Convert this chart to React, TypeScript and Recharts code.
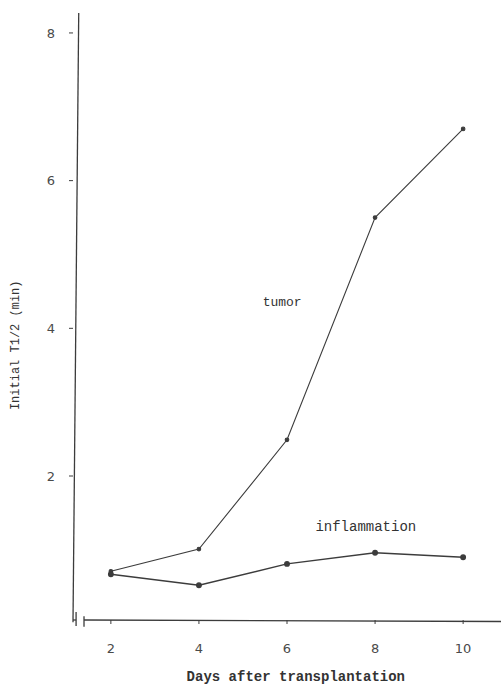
import React from 'react';
import { LineChart, Line, XAxis, YAxis, ReferenceLine, ReferenceDot } from 'recharts';

const days = [2, 4, 6, 8, 10];
const tumor = [0.71, 1.01, 2.49, 5.5, 6.7];
const inflammation = [0.67, 0.52, 0.81, 0.96, 0.9];
const xTicks = [2, 4, 6, 8, 10];
const yTicks = [2, 4, 6, 8];

const data = days.map((d, i) => ({ day: d, tumor: tumor[i], inflammation: inflammation[i] }));

const ink = '#3c3c3c';
const mono = '"Liberation Mono", "DejaVu Sans Mono", monospace';
const tickFont = { fontFamily: '"DejaVu Sans", sans-serif', fontSize: 13, fill: '#4a4a4a' };

const X_MIN = 1.14;
const X_MAX = 10.86;
const Y_MIN = 0.05;
const Y_MAX = 8.27;

const App: React.FC = () => {
  return (
    <div style={{ position: 'absolute', left: 0, top: 0, background: '#fff' }}>
      <LineChart width={501} height={688} data={data} margin={{ top: 13, right: 0, left: 0, bottom: 0 }}>
        <XAxis
          dataKey="day"
          type="number"
          domain={[X_MIN, X_MAX]}
          ticks={xTicks}
          axisLine={false}
          tickSize={4}
          tickMargin={20}
          tickLine={{ stroke: ink }}
          tick={tickFont}
          height={68}
        />
        <YAxis
          type="number"
          domain={[Y_MIN, Y_MAX]}
          ticks={yTicks}
          axisLine={false}
          tickSize={4}
          tickMargin={14}
          tickLine={{ stroke: ink }}
          tick={tickFont}
          width={73}
        />
        {/* slightly slanted y axis line, as drawn by hand */}
        <ReferenceLine
          segment={[{ x: 1.27, y: Y_MAX }, { x: X_MIN, y: Y_MIN - 0.03 }]}
          stroke={ink}
          strokeWidth={1.3}
          ifOverflow="visible"
        />
        {/* x axis with break */}
        <ReferenceLine segment={[{ x: X_MIN, y: Y_MIN }, { x: 1.21, y: Y_MIN }]} stroke={ink} strokeWidth={1.3} ifOverflow="visible" />
        <ReferenceLine segment={[{ x: 1.21, y: Y_MIN + 0.11 }, { x: 1.21, y: Y_MIN - 0.08 }]} stroke={ink} strokeWidth={1.3} ifOverflow="visible" />
        <ReferenceLine segment={[{ x: 1.39, y: Y_MIN + 0.05 }, { x: 1.39, y: Y_MIN - 0.09 }]} stroke={ink} strokeWidth={1.3} ifOverflow="visible" />
        <ReferenceLine segment={[{ x: 1.39, y: Y_MIN }, { x: X_MAX, y: Y_MIN - 0.02 }]} stroke={ink} strokeWidth={1.3} ifOverflow="visible" />
        <Line
          dataKey="tumor"
          stroke={ink}
          strokeWidth={1.1}
          dot={{ r: 1.8, fill: ink, stroke: ink }}
          isAnimationActive={false}
        />
        <Line
          dataKey="inflammation"
          stroke={ink}
          strokeWidth={1.5}
          dot={{ r: 2.2, fill: ink, stroke: ink }}
          isAnimationActive={false}
        />
        <ReferenceDot
          x={5.89}
          y={4.36}
          r={0}
          ifOverflow="visible"
          label={{ value: 'tumor', position: 'center', fontFamily: mono, fontSize: 13, fill: '#333' }}
        />
        <ReferenceDot
          x={7.79}
          y={1.32}
          r={0}
          ifOverflow="visible"
          label={{ value: 'inflammation', position: 'center', fontFamily: mono, fontSize: 14, fill: '#333' }}
        />
        <ReferenceDot
          x={6.2}
          y={-0.71}
          r={0}
          ifOverflow="visible"
          label={{ value: 'Days after transplantation', position: 'center', fontFamily: mono, fontSize: 14, fontWeight: 'bold', fill: '#333' }}
        />
        <ReferenceDot
          x={-0.18}
          y={3.77}
          r={0}
          ifOverflow="visible"
          label={{ value: 'Initial T1/2 (min)', position: 'center', angle: -90, fontFamily: mono, fontSize: 12, fill: '#333' }}
        />
      </LineChart>
    </div>
  );
};

export default App;
